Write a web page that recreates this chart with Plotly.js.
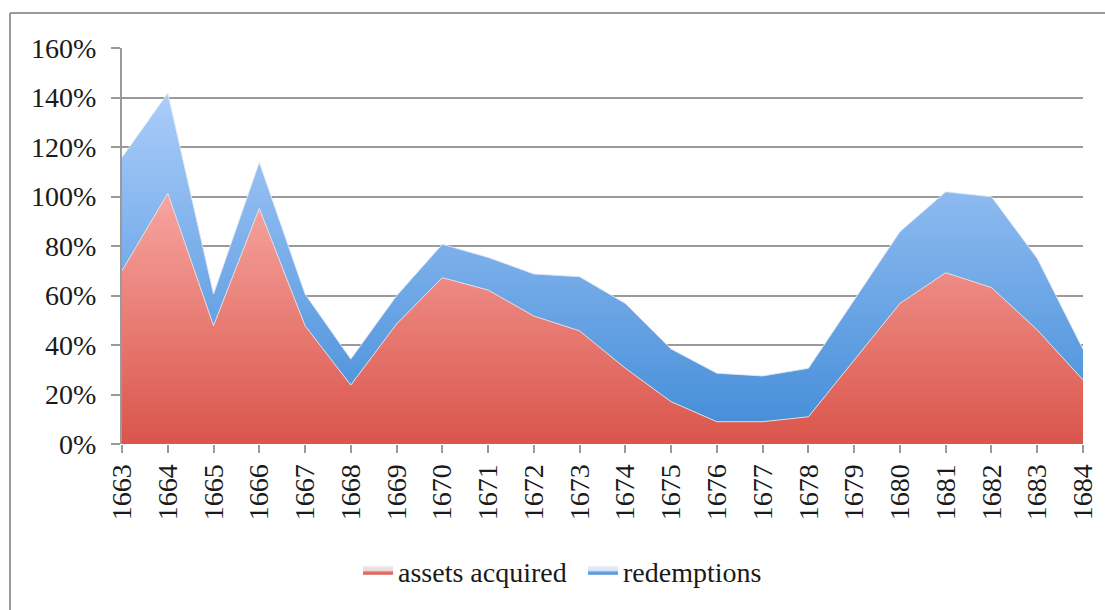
<!DOCTYPE html>
<html>
<head>
<meta charset="utf-8">
<script src="https://cdn.plot.ly/plotly-3.0.1.min.js"></script>
<style>
  html, body { margin: 0; padding: 0; background: #ffffff; }
  #chart { width: 1105px; height: 610px; }
</style>
</head>
<body>
<div id="chart"></div>
<script>
const years = ["1663","1664","1665","1666","1667","1668","1669","1670","1671","1672","1673",
               "1674","1675","1676","1677","1678","1679","1680","1681","1682","1683","1684"];
const assetsAcquired = [0.700, 1.013, 0.478, 0.952, 0.478, 0.238, 0.485, 0.672, 0.622, 0.517, 0.457,
                        0.306, 0.171, 0.090, 0.090, 0.110, 0.339, 0.568, 0.692, 0.632, 0.461, 0.259];
const redemptions    = [0.458, 0.404, 0.128, 0.186, 0.128, 0.105, 0.114, 0.135, 0.132, 0.170, 0.219,
                        0.262, 0.213, 0.196, 0.185, 0.196, 0.243, 0.290, 0.327, 0.367, 0.289, 0.124];
const yTicks = [0, 0.2, 0.4, 0.6, 0.8, 1.0, 1.2, 1.4, 1.6];

const FONT = "Liberation Serif, Times New Roman, serif";

const traces = [
  {
    type: "scatter", mode: "lines", name: "assets acquired",
    x: years, y: assetsAcquired, stackgroup: "one",
    line: { width: 1, color: "rgba(235,225,225,0.9)" },
    fillgradient: { type: "vertical", start: 0, stop: 1.02,
      colorscale: [[0, "#da554b"], [1, "#f7a6a1"]] },
    fillcolor: "#e87068",
    hoverinfo: "x+y"
  },
  {
    type: "scatter", mode: "lines", name: "redemptions",
    x: years, y: redemptions, stackgroup: "one",
    line: { width: 1, color: "rgba(225,232,245,0.9)" },
    fillgradient: { type: "vertical", start: 0, stop: 1.42,
      colorscale: [[0, "#418bd7"], [1, "#abcdfa"]] },
    fillcolor: "#6aa3e3",
    hoverinfo: "x+y"
  }
];

const L = 122, R = 1083, T = 48, B = 444, W = 1105, H = 610;
const pw = R - L, ph = B - T;
const px = v => (v - L) / pw;
const py = v => (B - v) / ph;

const layout = {
  width: W, height: H,
  margin: { l: L, r: W - R, t: T, b: H - B, pad: 0 },
  paper_bgcolor: "#ffffff", plot_bgcolor: "#ffffff",
  font: { family: FONT, size: 28, color: "#1a1a1a" },
  showlegend: true,
  legend: {
    orientation: "h", x: px(358), xanchor: "left", y: py(571), yanchor: "middle",
    font: { family: FONT, size: 28, color: "#1a1a1a" },
    itemsizing: "constant", itemwidth: 30, traceorder: "normal",
    entrywidth: 180, entrywidthmode: "pixels"
  },
  xaxis: {
    type: "category", range: [0, years.length - 1],
    tickangle: -90, ticks: "outside", ticklen: 8, tickwidth: 2, tickcolor: "#9a9a9a",
    showgrid: false, zeroline: false, showline: false,
    tickfont: { family: FONT, size: 28, color: "#1a1a1a" },
    fixedrange: true
  },
  yaxis: {
    range: [0, 1.6], tickvals: yTicks, tickformat: ".0%",
    ticks: "outside", ticklen: 9, tickwidth: 2, tickcolor: "#9a9a9a",
    showgrid: true, gridcolor: "#9a9a9a", gridwidth: 2,
    showline: true, linecolor: "#9a9a9a", linewidth: 2,
    zeroline: false, ticklabelstandoff: 9,
    tickfont: { family: FONT, size: 28, color: "#1a1a1a" },
    fixedrange: true
  },
  shapes: [
    { type: "line", xref: "paper", yref: "paper", x0: px(10), x1: px(1106), y0: py(13), y1: py(13),
      line: { color: "#9a9a9a", width: 2 } },
    { type: "line", xref: "paper", yref: "paper", x0: px(10), x1: px(10), y0: py(13), y1: py(611),
      line: { color: "#9a9a9a", width: 2 } }
  ]
};

Plotly.newPlot("chart", traces, layout, { displayModeBar: false, staticPlot: true });
</script>
</body>
</html>
